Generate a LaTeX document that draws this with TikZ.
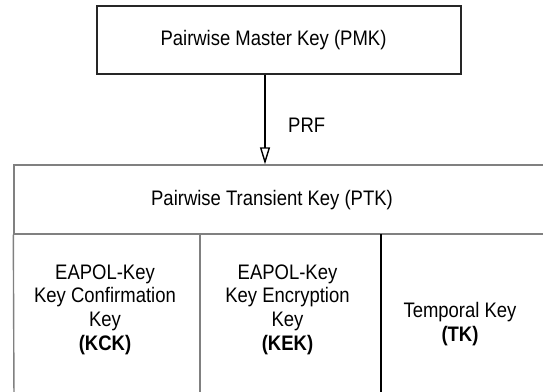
\documentclass[tikz,border=0pt]{standalone}
\usepackage{fontspec}
\setmainfont{Liberation Sans}[FakeStretch=0.88]
\usetikzlibrary{arrows.meta}
\tikzset{
  keytext/.style={font=\fontsize{21}{23.8}\selectfont, inner sep=0pt, align=center, text=black},
  boxline/.style={line width=1.4pt},
  cellline/.style={line width=1.4pt, draw=black!50},
}
\begin{document}
\begin{tikzpicture}[x=1pt,y=-1pt]
\useasboundingbox (0,0) rectangle (543,391);
\clip (0,0) rectangle (543,391);
\fill[white] (0,0) rectangle (543,391);

% top box
\node[boxline, draw=black!85, minimum width=364pt, minimum height=68pt, inner sep=0pt] (pmk) at (279,40) {};
\node[keytext] (pmkt) at (273.5,40) {Pairwise Master Key (PMK)};

% PTK box
\node[cellline, minimum width=540pt, minimum height=69pt, inner sep=0pt] (ptk) at (284,199.5) {};
\node[keytext] (ptkt) at (272,200) {Pairwise Transient Key (PTK)};

% column boundaries
\coordinate (c1) at (200,234);
\coordinate (c2) at (381,234);
\coordinate (lb) at (14,400);
\draw[cellline] (ptk.south west) -- (lb);
\draw[cellline] (c1) -- (c1 |- lb);
\draw[line width=1.4pt, black] (c2) -- (c2 |- lb);

% arrow
\coordinate (ar) at (265,0);
\draw[line width=1.8pt, -{Triangle[open, length=17pt, width=10pt, line width=1.4pt]}]
  (pmk.south -| ar) -- (ptk.north -| ar);
\node[keytext, anchor=west] (prf) at (288,125) {PRF};

% cells (anchor=base sits on the last line's baseline)
\node[keytext, anchor=base] (kck) at (105,350.5) {EAPOL-Key\\Key Confirmation\\Key\\\textbf{(KCK)}};
\node[keytext, anchor=base] (kek) at (287.5,350.5) {EAPOL-Key\\Key Encryption\\Key\\\textbf{(KEK)}};
\node[keytext, anchor=base] (tk) at (460,341) {Temporal Key\\\textbf{(TK)}};
\end{tikzpicture}
\end{document}
